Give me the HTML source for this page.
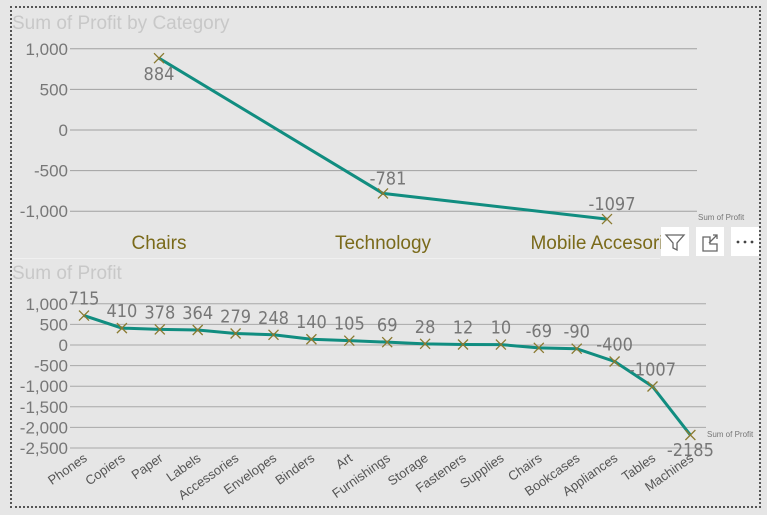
<!DOCTYPE html>
<html><head><meta charset="utf-8"><style>
body{margin:0;width:767px;height:515px;background:#e6e6e6;overflow:hidden;font-family:"Liberation Sans","DejaVu Sans",sans-serif}
#wrap{position:absolute;left:10px;top:6px;width:751px;height:502px;border:2px dotted #555;box-sizing:border-box}
svg{position:absolute;left:0;top:0}
</style></head><body>
<div id="wrap"></div>
<svg id="c" width="767" height="515"></svg>
<script>
const topCats=["Chairs","Technology","Mobile Accesories"];
const topVals=[884,-781,-1097];
const topTicks=[1000,500,0,-500,-1000];
const botCats=["Phones","Copiers","Paper","Labels","Accessories","Envelopes","Binders","Art","Furnishings","Storage","Fasteners","Supplies","Chairs","Bookcases","Appliances","Tables","Machines"];
const botVals=[715,410,378,364,279,248,140,105,69,28,12,10,-69,-90,-400,-1007,-2185];
const botTicks=[1000,500,0,-500,-1000,-1500,-2000,-2500];
const NS="http://www.w3.org/2000/svg";
const svg=document.getElementById('c');
function el(t,a,txt){const e=document.createElementNS(NS,t);for(const k in a)e.setAttribute(k,a[k]);if(txt!==undefined)e.textContent=txt;svg.appendChild(e);return e;}
function fmt(v){return v.toLocaleString('en-US');}
const LF='"DejaVu Sans Condensed","Liberation Sans",sans-serif';
let sep=el('line',{x1:12,x2:660,y1:258.5,y2:258.5,stroke:'#f0f0f0','stroke-width':1});


let t1=el('text',{x:12,y:29,'font-size':19,fill:'#c8c8c8'},'Sum of Profit by Category');


const ty=v=>130-v*0.0812;
const tx=i=>159+i*224;
topTicks.forEach(v=>{
 let g=el('line',{x1:70,x2:697,y1:ty(v),y2:ty(v),stroke:'#a0a0a0','stroke-width':1});
 
 
 let l=el('text',{x:68,y:ty(v)+6,'text-anchor':'end','font-size':17,fill:'#777'},fmt(v));
 
 
});
let tp=el('polyline',{points:topVals.map((v,i)=>tx(i)+','+ty(v)).join(' '),fill:'none',stroke:'#118d80','stroke-width':3});


topVals.forEach((v,i)=>{
 const x=tx(i),y=ty(v);
 let m=el('path',{d:`M${x-5},${y-5}L${x+5},${y+5}M${x+5},${y-5}L${x-5},${y+5}`,stroke:'#8a7a30','stroke-width':1.3});
 
 
 let d=el('text',{x:i==0?x:x+5,y:i==0?y+22:y-9,'text-anchor':'middle','font-size':18,fill:'#777','font-family':LF},String(v));
 
 
 let c=el('text',{x:x,y:249,'text-anchor':'middle','font-size':19,fill:'#7a6a1a'},topCats[i]);
 
 
});
let s1=el('text',{x:698,y:220,'font-size':8,fill:'#777'},'Sum of Profit');


[[661,'filter-icon'],[696,'focus-mode-icon'],[731,'more-options-icon']].forEach(([x,n])=>{
 let r=el('rect',{x:x,y:227,width:28,height:29,fill:'#fff'});
 
 
});
el('path',{d:'M666,235h18l-7,8v7l-4,-2v-5z',fill:'none',stroke:'#666','stroke-width':1.3});
el('path',{d:'M703,240v11h14v-7h-7v-7h-7zM709,243l8,-8M713,235h4v4',fill:'none',stroke:'#666','stroke-width':1.3});
[738,745,752].forEach(x=>el('circle',{cx:x,cy:242,r:1.4,fill:'#444'}));
let t2=el('text',{x:12,y:279,'font-size':19,fill:'#c8c8c8'},'Sum of Profit');


const by=v=>345-v*0.0412;
const bx=i=>84+i*37.9;
botTicks.forEach(v=>{
 let g=el('line',{x1:70,x2:706,y1:by(v),y2:by(v),stroke:'#a8a8a8','stroke-width':1});
 
 
 let l=el('text',{x:68,y:by(v)+6,'text-anchor':'end','font-size':17,fill:'#777'},fmt(v));
 
 
});
let bp=el('polyline',{points:botVals.map((v,i)=>bx(i)+','+by(v)).join(' '),fill:'none',stroke:'#118d80','stroke-width':3});


botVals.forEach((v,i)=>{
 const x=bx(i),y=by(v);
 let m=el('path',{d:`M${x-5},${y-5}L${x+5},${y+5}M${x+5},${y-5}L${x-5},${y+5}`,stroke:'#8a7a30','stroke-width':1.3});
 
 
 const last=i==botVals.length-1;
 let d=el('text',{x:x,y:last?y+21:y-11,'text-anchor':'middle','font-size':18,fill:'#777','font-family':LF},String(v));
 
 
 let c=el('text',{x:x+4,y:460,'text-anchor':'end','font-size':13,fill:'#555',transform:`rotate(-35 ${x+4} 460)`},botCats[i]);
 
 
});
let s2=el('text',{x:707,y:437,'font-size':8,fill:'#777'},'Sum of Profit');


</script>
</body></html>
